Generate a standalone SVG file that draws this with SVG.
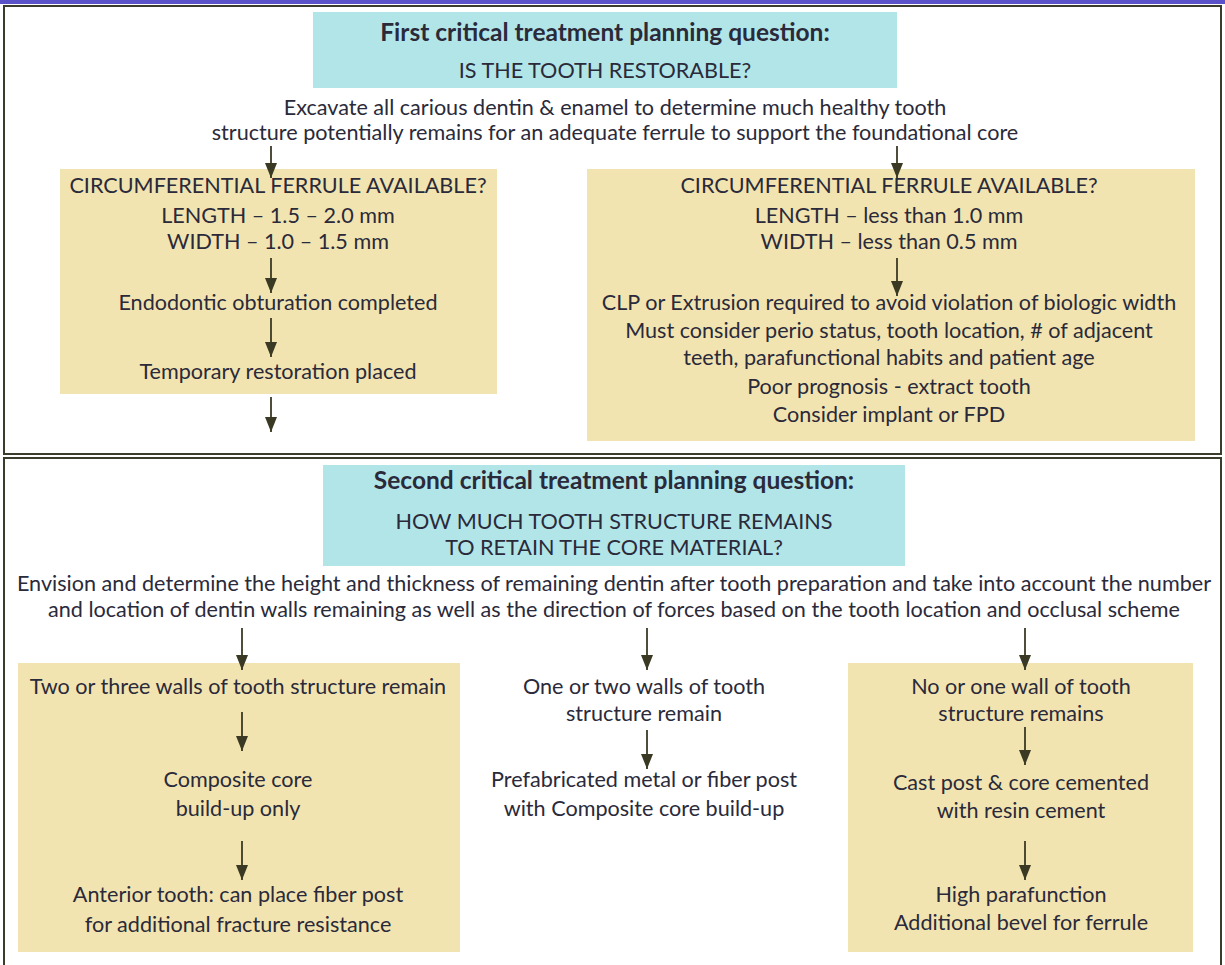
<svg xmlns="http://www.w3.org/2000/svg" width="1225" height="965" viewBox="0 0 1225 965">
<defs>
<style>
text{font-family:Lato,"Open Sans","Liberation Sans",sans-serif;font-size:21.6px;fill:#2a2a3a;text-anchor:middle}
.b{font-weight:bold;font-size:24.5px}
.cy{fill:#b2e5e8}
.yl{fill:#f2e4b0}
.fr{fill:none;stroke:#3c3c2c;stroke-width:2}
.ar{stroke:#3a3a24;stroke-width:1.8;fill:none;marker-end:url(#ah)}
</style>
<marker id="ah" viewBox="0 0 15 12" refX="15" refY="6" markerWidth="15" markerHeight="12" markerUnits="userSpaceOnUse" orient="auto">
<path d="M0,0 L15,6 L0,12 Z" fill="#3a3a24"/>
</marker>
</defs>
<rect x="0" y="0" width="1225" height="965" fill="#ffffff"/>
<rect x="0" y="0" width="1225" height="4" fill="#5b52c9"/>
<g id="frames">
<rect class="fr" x="4" y="6" width="1217" height="448"/>
<path class="fr" d="M4,966 L4,458 L1221,458 L1221,966"/>
</g>
<g id="q1">
<rect class="cy" x="313" y="12" width="584" height="76"/>
<text class="b" x="605" y="41">First critical treatment planning question:</text>
<text x="605" y="78">IS THE TOOTH RESTORABLE?</text>
</g>
<g id="excavate">
<text x="615" y="115">Excavate all carious dentin &amp; enamel to determine much healthy tooth</text>
<text x="615" y="140">structure potentially remains for an adequate ferrule to support the foundational core</text>
</g>
<g id="ferrule-yes">
<rect class="yl" x="60" y="169" width="437" height="225"/>
<text x="278" y="193">CIRCUMFERENTIAL FERRULE AVAILABLE?</text>
<text x="278" y="223">LENGTH – 1.5 – 2.0 mm</text>
<text x="278" y="249">WIDTH – 1.0 – 1.5 mm</text>
<text x="278" y="310">Endodontic obturation completed</text>
<text x="278" y="379">Temporary restoration placed</text>
</g>
<g id="ferrule-no">
<rect class="yl" x="587" y="169" width="608" height="272"/>
<text x="889" y="193">CIRCUMFERENTIAL FERRULE AVAILABLE?</text>
<text x="889" y="223">LENGTH – less than 1.0 mm</text>
<text x="889" y="249">WIDTH – less than 0.5 mm</text>
<text x="889" y="310">CLP or Extrusion required to avoid violation of biologic width</text>
<text x="889" y="338">Must consider perio status, tooth location, # of adjacent</text>
<text x="889" y="365">teeth, parafunctional habits and patient age</text>
<text x="889" y="394">Poor prognosis - extract tooth</text>
<text x="889" y="422">Consider implant or FPD</text>
</g>
<g id="q2">
<rect class="cy" x="323" y="465" width="582" height="101"/>
<text class="b" x="614" y="489">Second critical treatment planning question:</text>
<text x="614" y="529">HOW MUCH TOOTH STRUCTURE REMAINS</text>
<text x="614" y="555">TO RETAIN THE CORE MATERIAL?</text>
</g>
<g id="envision">
<text x="614" y="591">Envision and determine the height and thickness of remaining dentin after tooth preparation and take into account the number</text>
<text x="614" y="617">and location of dentin walls remaining as well as the direction of forces based on the tooth location and occlusal scheme</text>
</g>
<g id="walls-2-3">
<rect class="yl" x="18" y="663" width="442" height="289"/>
<text x="238" y="694">Two or three walls of tooth structure remain</text>
<text x="238" y="787">Composite core</text>
<text x="238" y="816">build-up only</text>
<text x="238" y="902">Anterior tooth: can place fiber post</text>
<text x="238" y="932">for additional fracture resistance</text>
</g>
<g id="walls-1-2">
<text x="644" y="694">One or two walls of tooth</text>
<text x="644" y="721">structure remain</text>
<text x="644" y="787">Prefabricated metal or fiber post</text>
<text x="644" y="816">with Composite core build-up</text>
</g>
<g id="walls-0-1">
<rect class="yl" x="848" y="663" width="345" height="289"/>
<text x="1021" y="694">No or one wall of tooth</text>
<text x="1021" y="721">structure remains</text>
<text x="1021" y="790">Cast post &amp; core cemented</text>
<text x="1021" y="818">with resin cement</text>
<text x="1021" y="902">High parafunction</text>
<text x="1021" y="930">Additional bevel for ferrule</text>
</g>
<g id="connectors">
<line class="ar" x1="271" y1="146" x2="271" y2="178"/>
<line class="ar" x1="897" y1="146" x2="897" y2="178"/>
<line class="ar" x1="271" y1="258" x2="271" y2="293"/>
<line class="ar" x1="271" y1="318" x2="271" y2="357"/>
<line class="ar" x1="271" y1="397" x2="271" y2="432"/>
<line class="ar" x1="897" y1="258" x2="897" y2="296"/>
<line class="ar" x1="242" y1="628" x2="242" y2="670"/>
<line class="ar" x1="647" y1="628" x2="647" y2="670"/>
<line class="ar" x1="1025" y1="628" x2="1025" y2="670"/>
<line class="ar" x1="242" y1="712" x2="242" y2="751"/>
<line class="ar" x1="242" y1="841" x2="242" y2="880"/>
<line class="ar" x1="647" y1="730" x2="647" y2="769"/>
<line class="ar" x1="1025" y1="727" x2="1025" y2="765"/>
<line class="ar" x1="1025" y1="841" x2="1025" y2="880"/>
</g>
</svg>
